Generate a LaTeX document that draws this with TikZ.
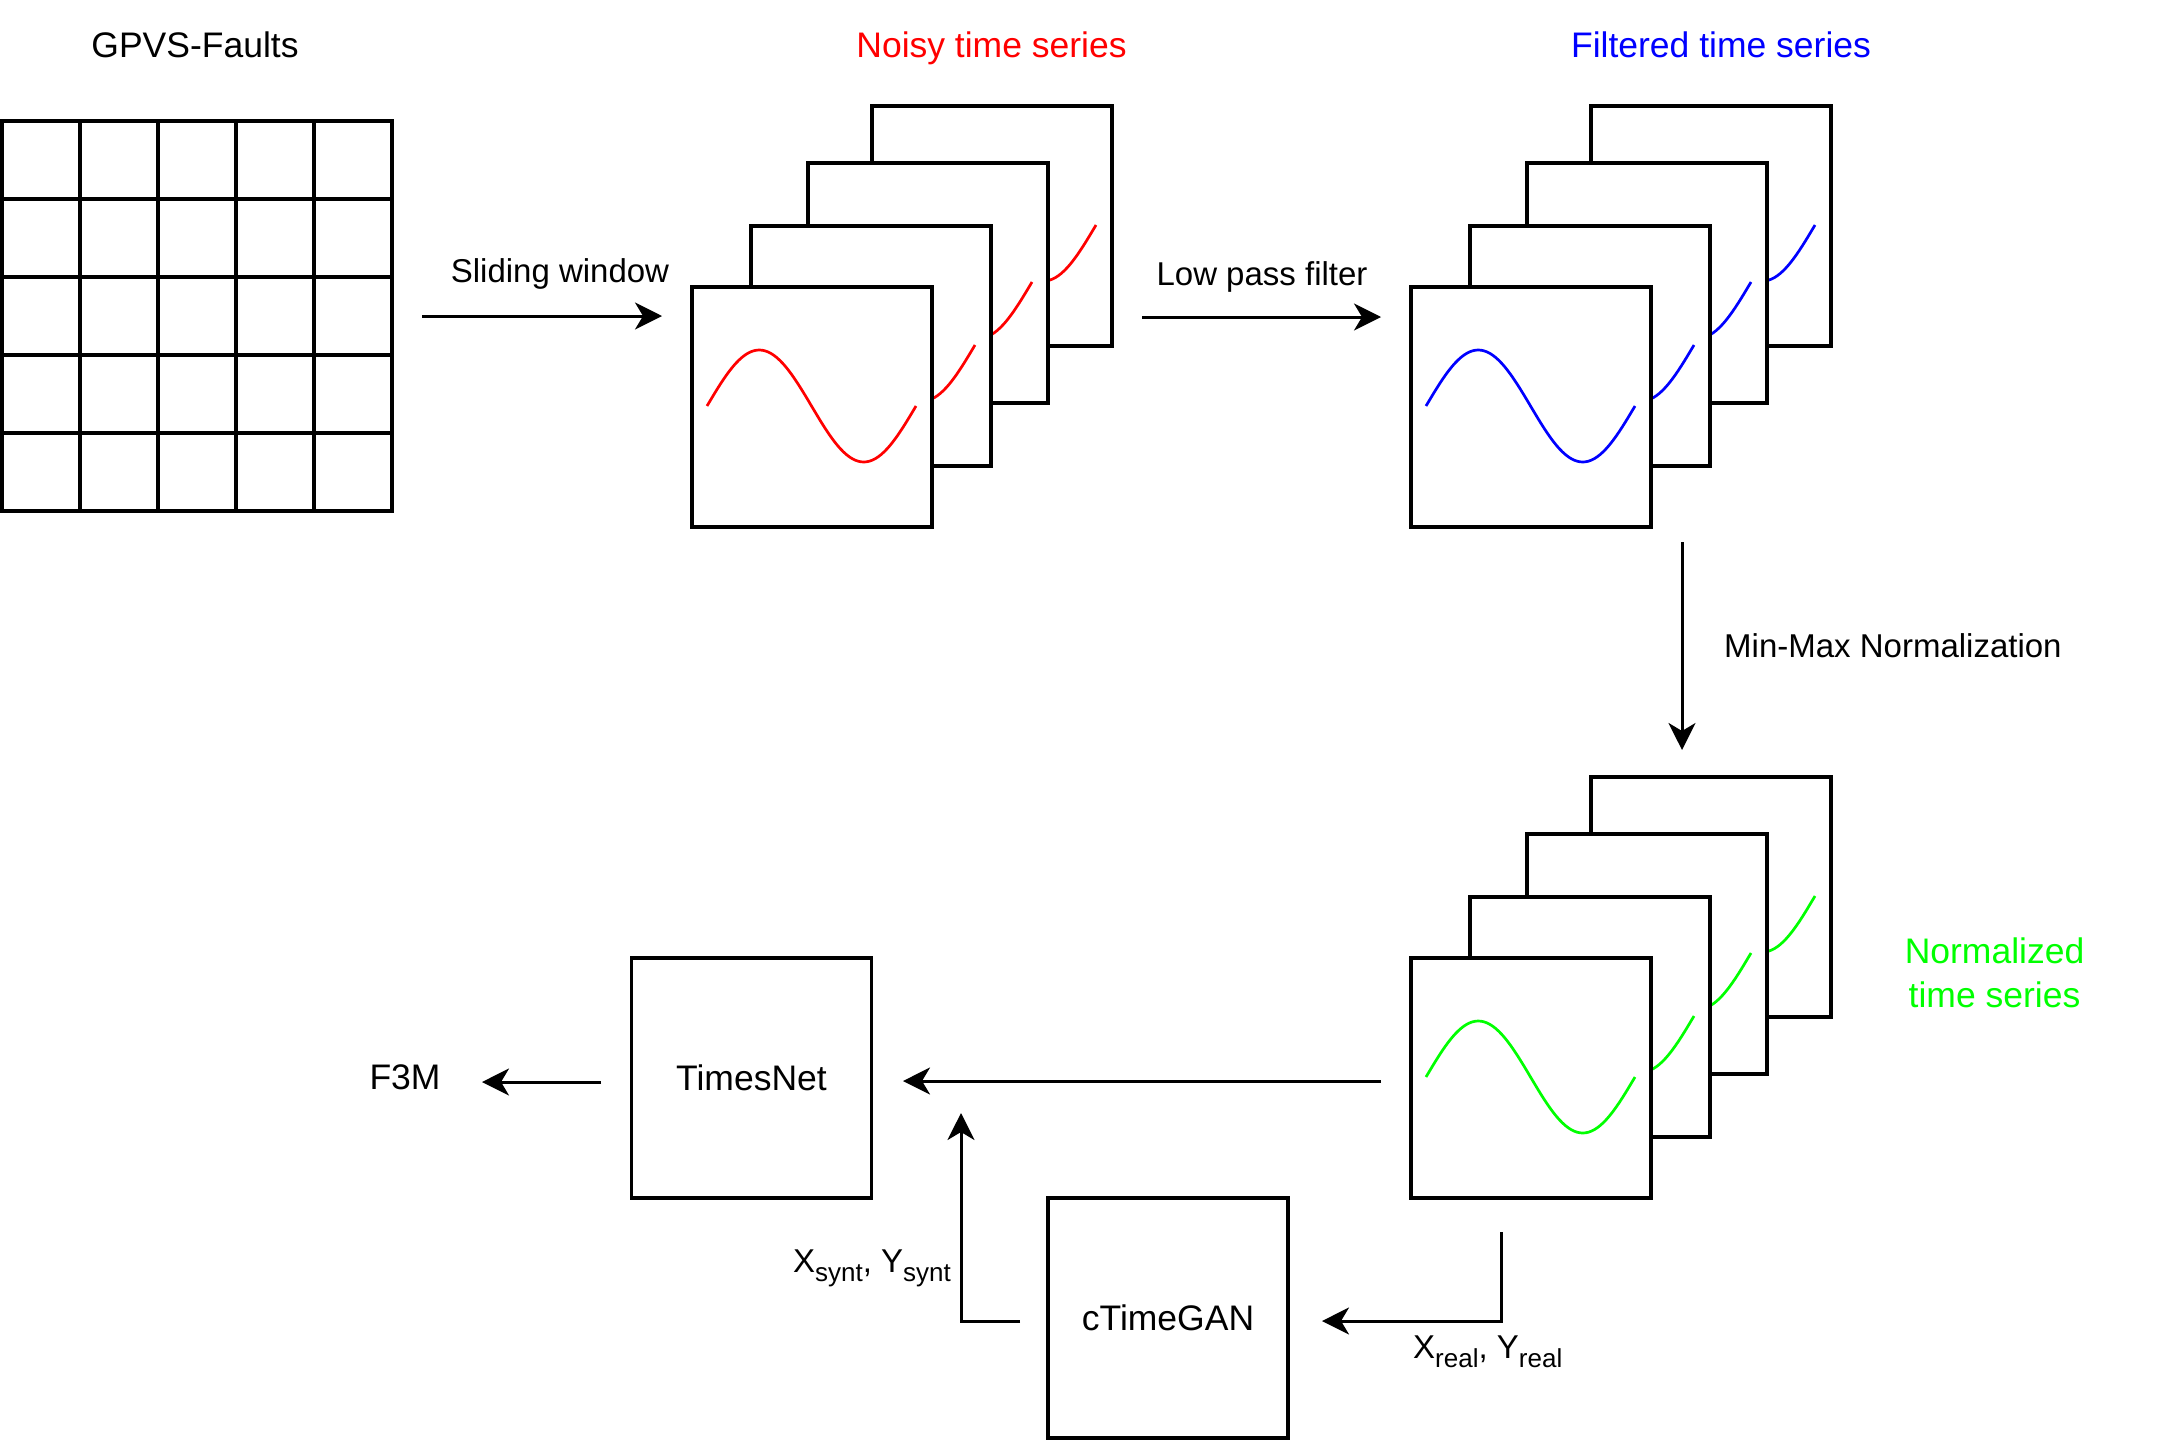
\documentclass[tikz,border=0pt]{standalone}
\usepackage{fontspec}
\setmainfont{Liberation Sans}
\usetikzlibrary{arrows.meta}
\definecolor{tsred}{HTML}{FF0000}
\definecolor{tsblue}{HTML}{0000FF}
\definecolor{tsgreen}{HTML}{00FF00}
\newcommand\lowsub[1]{\raisebox{-9pt}{\fontsize{26}{30}\selectfont #1}}
\newcommand\tsframe[4]{%
  \node[tsbox, anchor=north west] (#4) at (#1,#2) {};
  \draw[sinewave, #3] plot[domain=0:360, samples=73, smooth] ({#1+15+209*(\x/360)},{#2+119-56*sin(\x)});
}
\begin{document}
\begin{tikzpicture}[x=1pt, y=-1pt,
  tsbox/.style={draw=black, line width=3.3pt, fill=white, minimum width=240pt, minimum height=240pt, inner sep=0pt, outer sep=0pt},
  sinewave/.style={line width=2.7pt},
  conn/.style={line width=3pt, -{Stealth[length=27pt, width=27pt, inset=8pt]}},
  titlefont/.style={font=\fontsize{35.5}{42}\selectfont, inner sep=0pt, anchor=base},
  labfont/.style={font=\fontsize{33}{40}\selectfont, inner sep=0pt},
  gridline/.style={line width=3.3pt}
]
\useasboundingbox (0,0) rectangle (2178,1440);

% titles
\node[titlefont] (gpvslab) at (195,57) {GPVS-Faults};
\node[titlefont, text=tsred] (noisylab) at (991.5,57) {Noisy time series};
\node[titlefont, text=tsblue] (filtlab) at (1721,57) {Filtered time series};

% grid
\node[draw, gridline, minimum width=390pt, minimum height=390pt, inner sep=0pt, outer sep=0pt, anchor=north west] (gpvs) at (2,121) {};
\foreach \i in {1,...,4} {
  \draw[gridline] (2+78*\i,121) -- (2+78*\i,511);
  \draw[gridline] (2,121+78*\i) -- (392,121+78*\i);
}

% noisy stack
\tsframe{872}{106}{tsred}{noisy4}
\tsframe{808}{163}{tsred}{noisy3}
\tsframe{751}{226}{tsred}{noisy2}
\tsframe{692}{287}{tsred}{noisy1}

% filtered stack
\tsframe{1591}{106}{tsblue}{filt4}
\tsframe{1527}{163}{tsblue}{filt3}
\tsframe{1470}{226}{tsblue}{filt2}
\tsframe{1411}{287}{tsblue}{filt1}

% normalized stack
\tsframe{1591}{777}{tsgreen}{norm4}
\tsframe{1527}{834}{tsgreen}{norm3}
\tsframe{1470}{897}{tsgreen}{norm2}
\tsframe{1411}{958}{tsgreen}{norm1}

\node[titlefont, text=tsgreen] (normlabA) at (1994.5,963) {Normalized};
\node[titlefont, text=tsgreen] (normlabB) at (1994.5,1007) {time series};

% model boxes
\node[tsbox, font=\fontsize{35.5}{42}\selectfont] (timesnet) at (751.5,1078) {TimesNet};
\node[tsbox, font=\fontsize{35.5}{42}\selectfont] (ctimegan) at (1168,1318) {cTimeGAN};
\node[titlefont] (f3m) at (405,1089) {F3M};

% labels
\node[labfont, anchor=base] (slidelab) at (560,282) {Sliding window};
\node[labfont, anchor=base] (lowlab) at (1262,285) {Low pass filter};
\node[labfont, anchor=base west] (mmlab) at (1724,657) {Min-Max Normalization};
\node[labfont, anchor=base west] (reallab) at (1413,1358) {X\lowsub{real}, Y\lowsub{real}};
\node[labfont, anchor=base east] (syntlab) at (951,1272) {X\lowsub{synt}, Y\lowsub{synt}};

% connector end points
\coordinate (a1s) at (422,316);   \coordinate (a1e) at (662,316);
\coordinate (a2s) at (1142,317);  \coordinate (a2e) at (1381,317);
\coordinate (a3s) at (1682,542);  \coordinate (a3e) at (1682,750);
\coordinate (a4s) at (1381,1081); \coordinate (a4e) at (903,1081);
\coordinate (a5s) at (601,1082);  \coordinate (a5e) at (482,1082);
\coordinate (a6s) at (1501,1232); \coordinate (a6c) at (1501,1321); \coordinate (a6e) at (1322,1321);
\coordinate (a7s) at (1020,1321); \coordinate (a7c) at (961,1321);  \coordinate (a7e) at (961,1113);

\draw[conn] (a1s) -- (a1e);
\draw[conn] (a2s) -- (a2e);
\draw[conn] (a3s) -- (a3e);
\draw[conn] (a4s) -- (a4e);
\draw[conn] (a5s) -- (a5e);
\draw[conn] (a6s) -- (a6c) -- (a6e);
\draw[conn] (a7s) -- (a7c) -- (a7e);
\end{tikzpicture}
\end{document}
